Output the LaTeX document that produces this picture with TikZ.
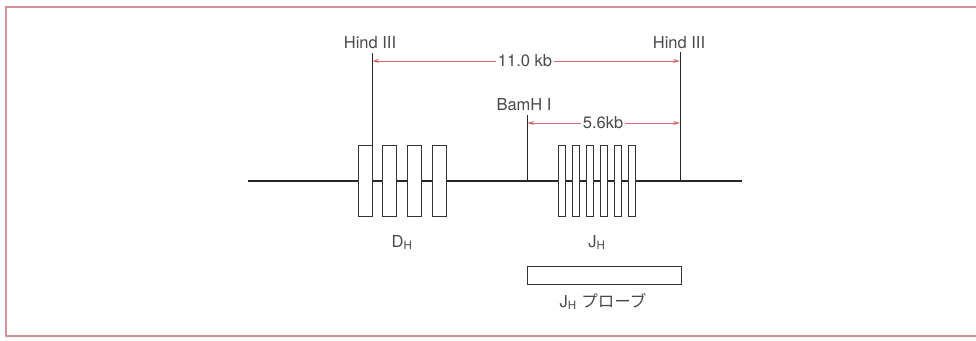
\documentclass[tikz,border=0pt]{standalone}
\usepackage{fontspec}
\setmainfont{TeX Gyre Heros}
\newfontfamily\jpfont{Noto Sans CJK JP}
\usetikzlibrary{arrows.meta,positioning,calc}
\definecolor{framered}{HTML}{D4919A}
\definecolor{arrowred}{HTML}{D26A70}
\definecolor{textgray}{HTML}{4A4A4A}
\tikzset{
  exon/.style={draw=black!80, fill=white, line width=0.9pt, minimum height=71pt, inner sep=0pt},
  dexon/.style={exon, minimum width=14pt},
  jexon/.style={exon, minimum width=7pt},
  probebox/.style={draw=black!80, line width=0.9pt, minimum width=154pt, minimum height=18pt, inner sep=0pt},
  lbl/.style={text=textgray, font=\fontsize{16.5}{16.5}\selectfont, inner sep=1pt},
  site/.style={draw=black!85, line width=0.9pt},
  dna/.style={draw=black!85, line width=2.4pt},
  measure/.style={draw=arrowred, line width=0.9pt, -{Stealth[length=7pt,width=4pt]}}
}
\begin{document}
\begin{tikzpicture}[x=1pt, y=-1pt]
\useasboundingbox (0,0) rectangle (976,340);
% frame
\draw[framered, line width=1.1pt] (976,7) -- (6,7) -- (6,336) -- (976,336);
% DNA
\coordinate (dnaL) at (248,181);
\coordinate (dnaR) at (742,181);
\draw[dna] (dnaL) -- (dnaR);
% D_H and J_H segments
\foreach \i in {0,...,3}
  \node[dexon] (d\i) at (365+24.8*\i,180.5) {};
\foreach \i in {0,...,5}
  \node[jexon] (j\i) at (561.5+14*\i,180.5) {};
\node[lbl, anchor=base] (dh) at (402,247) {D\textsubscript{H}};
\node[lbl, anchor=base] (jh) at (597,247) {J\textsubscript{H}};
% restriction sites
\coordinate (hlTop) at (372,53);
\coordinate (hlBot) at (372,145);
\coordinate (hrTop) at (680,52);
\coordinate (hrBot) at (680,181);
\coordinate (bamTop) at (527,115);
\coordinate (bamBot) at (527,181);
\draw[site] (hlTop) -- (hlBot);
\draw[site] (hrTop) -- (hrBot);
\draw[site] (bamTop) -- (bamBot);
\node[lbl, anchor=base] (hindL) at (370,48) {Hind III};
\node[lbl, anchor=base] (hindR) at (679,48) {Hind III};
\node[lbl, anchor=base] (bam) at (524,110) {BamH I};
% distances
\node[lbl, fill=white, inner sep=1.5pt] (kb11) at (525,61) {11.0 kb};
\node[lbl, fill=white, inner sep=1.5pt] (kb56) at (603,123) {5.6kb};
\draw[measure] (kb11.west) -- (kb11.west -| hlTop);
\draw[measure] (kb11.east) -- (kb11.east -| hrTop);
\draw[measure] (kb56.west) -- (kb56.west -| bamTop);
\draw[measure] (kb56.east) -- (kb56.east -| hrTop);
% probe
\node[probebox] (probe) at (604,275) {};
\node[lbl, anchor=base] (probelbl) at (603,307) {J\textsubscript{H} {\jpfont プローブ}};
\end{tikzpicture}
\end{document}
